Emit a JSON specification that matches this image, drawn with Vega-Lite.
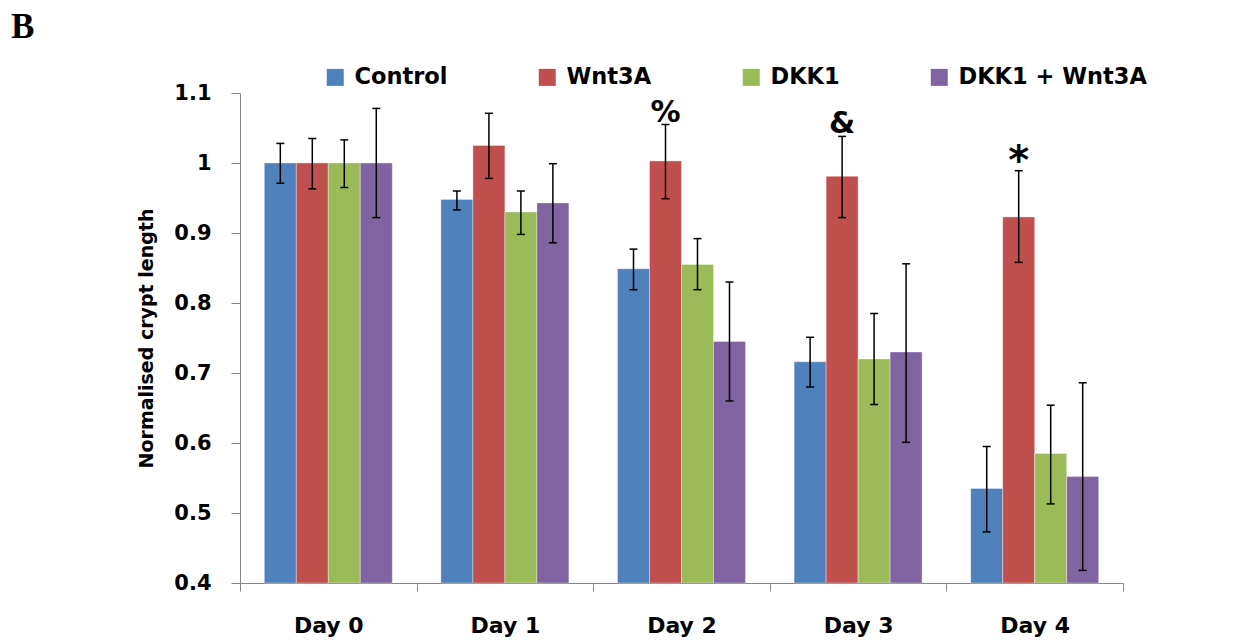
{
  "$schema": "https://vega.github.io/schema/vega-lite/v6.json",
  "autosize": "none",
  "padding": {"left": 240, "top": 93, "right": 111, "bottom": 59},
  "width": 883,
  "height": 490,
  "background": "white",
  "title": {"text": "B", "font": "Liberation Serif", "fontSize": 35, "fontWeight": "bold", "color": "black", "anchor": "start", "frame": "group", "dx": -229, "dy": -21, "offset": 0},
  "config": {
    "view": {"stroke": null},
    "axis": {"grid": false, "domainColor": "#868686", "tickColor": "#868686", "domainWidth": 1, "tickWidth": 1, "labelColor": "black", "labelFont": "DejaVu Sans", "labelFontWeight": "bold", "titleFont": "DejaVu Sans", "titleFontWeight": "bold", "titleColor": "black"}
  },
  "datasets": {
    "bars": [
      {"day": "Day 0", "group": "Control", "mean": 1.0, "lo": 0.971, "hi": 1.028},
      {"day": "Day 0", "group": "Wnt3A", "mean": 1.0, "lo": 0.963, "hi": 1.035},
      {"day": "Day 0", "group": "DKK1", "mean": 1.0, "lo": 0.965, "hi": 1.033},
      {"day": "Day 0", "group": "DKK1 + Wnt3A", "mean": 1.0, "lo": 0.922, "hi": 1.078},
      {"day": "Day 1", "group": "Control", "mean": 0.948, "lo": 0.933, "hi": 0.960},
      {"day": "Day 1", "group": "Wnt3A", "mean": 1.025, "lo": 0.978, "hi": 1.071},
      {"day": "Day 1", "group": "DKK1", "mean": 0.930, "lo": 0.898, "hi": 0.960},
      {"day": "Day 1", "group": "DKK1 + Wnt3A", "mean": 0.943, "lo": 0.886, "hi": 0.999},
      {"day": "Day 2", "group": "Control", "mean": 0.849, "lo": 0.819, "hi": 0.877},
      {"day": "Day 2", "group": "Wnt3A", "mean": 1.003, "lo": 0.949, "hi": 1.055},
      {"day": "Day 2", "group": "DKK1", "mean": 0.855, "lo": 0.819, "hi": 0.892},
      {"day": "Day 2", "group": "DKK1 + Wnt3A", "mean": 0.745, "lo": 0.660, "hi": 0.830},
      {"day": "Day 3", "group": "Control", "mean": 0.716, "lo": 0.680, "hi": 0.751},
      {"day": "Day 3", "group": "Wnt3A", "mean": 0.981, "lo": 0.922, "hi": 1.038},
      {"day": "Day 3", "group": "DKK1", "mean": 0.720, "lo": 0.655, "hi": 0.785},
      {"day": "Day 3", "group": "DKK1 + Wnt3A", "mean": 0.730, "lo": 0.601, "hi": 0.856},
      {"day": "Day 4", "group": "Control", "mean": 0.535, "lo": 0.473, "hi": 0.595},
      {"day": "Day 4", "group": "Wnt3A", "mean": 0.923, "lo": 0.858, "hi": 0.989},
      {"day": "Day 4", "group": "DKK1", "mean": 0.585, "lo": 0.513, "hi": 0.654},
      {"day": "Day 4", "group": "DKK1 + Wnt3A", "mean": 0.552, "lo": 0.418, "hi": 0.686}
    ],
    "sig": [
      {"day": "Day 2", "group": "Wnt3A", "label": "%", "pos": 1.059},
      {"day": "Day 3", "group": "Wnt3A", "label": "&", "pos": 1.043}
    ],
    "star": [
      {"day": "Day 4", "group": "Wnt3A", "label": "*", "pos": 0.985}
    ]
  },
  "encoding": {
    "x": {
      "field": "day", "type": "nominal",
      "scale": {"paddingInner": 0, "paddingOuter": 0},
      "axis": {"title": null, "labelAngle": 0, "tickBand": "extent", "tickSize": 8, "labelPadding": 24, "labelFontSize": 22}
    },
    "xOffset": {
      "field": "group", "type": "nominal",
      "scale": {"domain": ["Control", "Wnt3A", "DKK1", "DKK1 + Wnt3A"], "paddingInner": 0, "paddingOuter": 0.76}
    }
  },
  "layer": [
    {
      "data": {"name": "bars"},
      "mark": {"type": "bar", "stroke": "#ffffff", "strokeOpacity": 0.35, "strokeWidth": 1},
      "encoding": {
        "y": {
          "field": "mean", "type": "quantitative",
          "scale": {"domain": [0.4, 1.1], "zero": false, "nice": false},
          "axis": {"title": "Normalised crypt length", "values": [0.4, 0.5, 0.6, 0.7, 0.8, 0.9, 1, 1.1], "format": "~g", "labelFontSize": 21, "labelPadding": 20, "tickSize": 9, "titleFontSize": 19, "titlePadding": 17}
        },
        "y2": {"datum": 0.4},
        "color": {
          "field": "group", "type": "nominal",
          "scale": {"domain": ["Control", "Wnt3A", "DKK1", "DKK1 + Wnt3A"], "range": ["#4F81BD", "#C0504D", "#9BBB59", "#8064A2"]},
          "legend": {"orient": "none", "legendX": 84, "legendY": -27, "direction": "horizontal", "title": null, "symbolType": "square", "symbolSize": 289, "symbolStrokeWidth": 0, "labelFont": "DejaVu Sans", "labelFontSize": 22.5, "labelFontWeight": "bold", "labelColor": "black", "labelOffset": 8, "columnPadding": 88, "padding": 0, "labelLimit": 400}
        }
      }
    },
    {
      "data": {"name": "bars"},
      "mark": {"type": "rule", "color": "black", "strokeWidth": 1.5},
      "encoding": {
        "y": {"field": "lo", "type": "quantitative"},
        "y2": {"field": "hi"}
      }
    },
    {
      "data": {"name": "bars"},
      "mark": {"type": "tick", "orient": "horizontal", "color": "black", "size": 8, "thickness": 1.5, "opacity": 1},
      "encoding": {
        "y": {"field": "lo", "type": "quantitative"}
      }
    },
    {
      "data": {"name": "bars"},
      "mark": {"type": "tick", "orient": "horizontal", "color": "black", "size": 8, "thickness": 1.5, "opacity": 1},
      "encoding": {
        "y": {"field": "hi", "type": "quantitative"}
      }
    },
    {
      "data": {"name": "sig"},
      "mark": {"type": "text", "font": "DejaVu Sans", "fontWeight": "bold", "fontSize": 30, "baseline": "alphabetic", "align": "center", "color": "black"},
      "encoding": {
        "y": {"field": "pos", "type": "quantitative"},
        "text": {"field": "label"}
      }
    },
    {
      "data": {"name": "star"},
      "mark": {"type": "text", "font": "DejaVu Sans", "fontWeight": "bold", "fontSize": 40, "baseline": "alphabetic", "align": "center", "color": "black"},
      "encoding": {
        "y": {"field": "pos", "type": "quantitative"},
        "text": {"field": "label"}
      }
    }
  ]
}
